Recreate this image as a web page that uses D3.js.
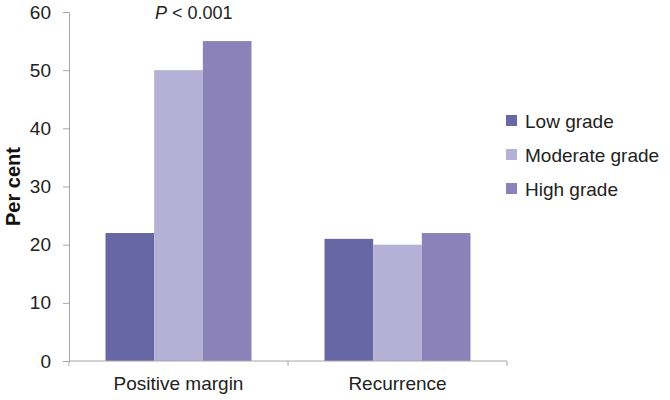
<!DOCTYPE html>
<html>
<head>
<meta charset="utf-8">
<script src="https://cdn.jsdelivr.net/npm/d3@7"></script>
<style>
  body { margin: 0; background: #fff; }
</style>
</head>
<body>
<div id="chart"></div>
<script>
// data
const categories = ["Positive margin", "Recurrence"];
const grades = ["Low grade", "Moderate grade", "High grade"];
const lowGrade = [22, 21];
const moderateGrade = [50, 20];
const highGrade = [55, 22];
const yTicks = [0, 10, 20, 30, 40, 50, 60];
const colors = ["#6767a5", "#b5b0d5", "#8a82b9"];

const series = [lowGrade, moderateGrade, highGrade];

const width = 670, height = 400;
const margin = {top: 12, right: 163, bottom: 39, left: 69};

const svg = d3.select("#chart")
  .append("svg")
    .attr("width", width)
    .attr("height", height)
    .attr("font-family", "Liberation Sans, Arial, sans-serif");

const x = d3.scaleBand()
    .domain(categories)
    .range([margin.left, width - margin.right])
    .paddingInner(0)
    .paddingOuter(0);

const x1 = d3.scaleBand()
    .domain(grades)
    .range([0, x.bandwidth()])
    .paddingInner(0)
    .paddingOuter(0.75);

const y = d3.scaleLinear()
    .domain([0, 60])
    .range([height - margin.bottom, margin.top]);

// bars
const groups = svg.append("g")
  .selectAll("g")
  .data(categories)
  .join("g")
    .attr("transform", d => `translate(${x(d)},0)`);

groups.selectAll("rect")
  .data((c, i) => grades.map((g, j) => ({grade: g, value: series[j][i], color: colors[j]})))
  .join("rect")
    .attr("x", d => x1(d.grade))
    .attr("y", d => y(d.value))
    .attr("width", x1.bandwidth())
    .attr("height", d => y(0) - y(d.value))
    .attr("fill", d => d.color);

// y axis
const yAxis = svg.append("g")
    .attr("transform", `translate(${margin.left},0)`)
    .call(d3.axisLeft(y).tickValues(yTicks).tickSize(6).tickPadding(12).tickSizeOuter(0));
yAxis.selectAll("line, path").attr("stroke", "#a6a6a6");
yAxis.selectAll("text").attr("font-size", 19).attr("fill", "#222");

// x axis with ticks at category boundaries
const xBase = svg.append("g")
    .attr("transform", `translate(0,${y(0)})`);
xBase.append("line")
    .attr("x1", margin.left).attr("x2", width - margin.right)
    .attr("stroke", "#a6a6a6");
xBase.selectAll(".bound")
  .data([...categories.map(c => x(c)), x(categories[1]) + x.bandwidth()])
  .join("line")
    .attr("class", "bound")
    .attr("x1", d => d).attr("x2", d => d)
    .attr("y1", 0).attr("y2", 5)
    .attr("stroke", "#a6a6a6");
xBase.selectAll("text")
  .data(categories)
  .join("text")
    .attr("x", d => x(d) + x.bandwidth() / 2)
    .attr("y", 29)
    .attr("text-anchor", "middle")
    .attr("font-size", 19)
    .attr("fill", "#222")
    .text(d => d);

// y label
svg.append("text")
    .attr("transform", `translate(20,${(y(0) + y(60)) / 2}) rotate(-90)`)
    .attr("text-anchor", "middle")
    .attr("font-size", 20)
    .attr("font-weight", "bold")
    .attr("fill", "#111")
    .text("Per cent");

// significance note
const note = svg.append("text")
    .attr("x", 155)
    .attr("y", 19)
    .attr("font-size", 18)
    .attr("fill", "#222");
note.append("tspan").attr("font-style", "italic").text("P");
note.append("tspan").text(" < 0.001");

// legend
const legend = svg.append("g")
    .attr("transform", "translate(506,120)");
const items = legend.selectAll("g")
  .data(grades)
  .join("g")
    .attr("transform", (d, i) => `translate(0,${i * 34})`);
items.append("rect")
    .attr("x", 0).attr("y", -5)
    .attr("width", 11).attr("height", 11)
    .attr("fill", (d, i) => colors[i]);
items.append("text")
    .attr("x", 19)
    .attr("y", 1)
    .attr("dy", "0.35em")
    .attr("font-size", 19)
    .attr("fill", "#222")
    .text(d => d);
</script>
</body>
</html>
